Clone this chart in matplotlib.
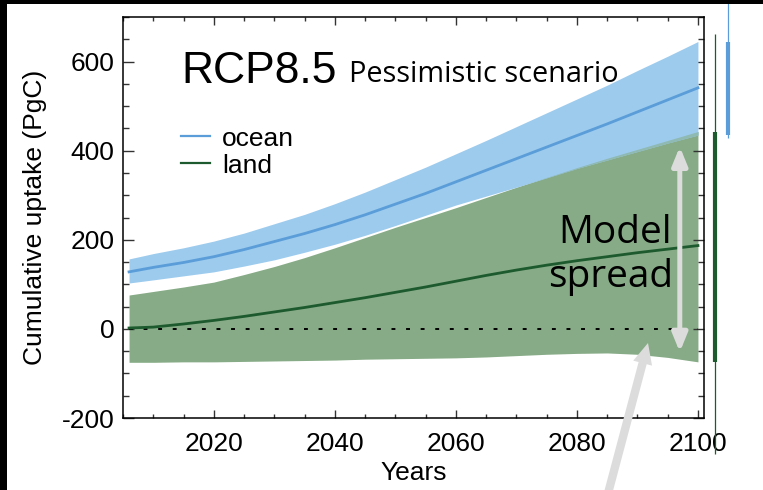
import matplotlib
matplotlib.use("Agg")
import matplotlib.pyplot as plt
import numpy as np
from matplotlib.patches import FancyArrowPatch, Rectangle, ArrowStyle
from matplotlib.ticker import MultipleLocator
from matplotlib.lines import Line2D

plt.rcParams['axes.unicode_minus'] = False

# ---------------- data ----------------
years = [2006, 2010, 2015, 2020, 2025, 2030, 2035, 2040, 2045, 2050,
         2055, 2060, 2065, 2070, 2075, 2080, 2085, 2090, 2095, 2100]

ocean_mean = [128, 138, 149, 162, 178, 196, 214, 234, 256, 280,
              304, 330, 356, 382, 408, 434, 460, 487, 514, 541]
ocean_hi = [157, 169, 182, 197, 215, 236, 257, 281, 307, 335,
            363, 393, 423, 454, 485, 516, 547, 580, 612, 645]
ocean_lo = [103, 110, 119, 128, 141, 155, 172, 190, 210, 232,
            255, 278, 298, 318, 339, 360, 379, 398, 417, 435]

land_mean = [2, 4, 11, 19, 28, 38, 48, 59, 70, 82,
             94, 107, 120, 132, 143, 153, 162, 171, 179, 187]
land_hi = [76, 84, 94, 105, 122, 140, 160, 182, 205, 228,
           250, 272, 295, 318, 340, 362, 383, 403, 423, 443]
land_lo = [-75, -75, -74, -74, -73, -72, -71, -70, -68, -67,
           -66, -65, -63, -60, -57, -55, -54, -57, -64, -74]

# ranges shown at the right edge (2100)
ocean_full_range = [429, 733]
land_full_range = [-280, 661]

# spread arrow (year, top, bottom)
spread_arrow = [2097, 409, -52]

series_labels = ["ocean", "land"]
title_main = "RCP8.5"
title_sub = "Pessimistic scenario"
spread_text = ["Model", "spread"]
x_ticks = [2020, 2040, 2060, 2080, 2100]
y_ticks = [-200, 0, 200, 400, 600]

# ---------------- style ----------------
c_ocean_band = "#9ccbee"
c_ocean_line = "#5a9dd8"
c_land_band = "#86ab86"
c_land_line = "#1d5a2e"
c_overlap = "#8fb9b3"
c_arrow = "#dcdcdc"
helv = ["Liberation Sans", "DejaVu Sans"]
geo = ["Open Sans", "DejaVu Sans"]

fig = plt.figure(figsize=(7.63, 4.90), dpi=100)
ax = fig.add_axes([123/763, 1-418/490, 581/763, 401/490])

yrs = np.array(years)
o_lo = np.array(ocean_lo); o_hi = np.array(ocean_hi)
l_lo = np.array(land_lo); l_hi = np.array(land_hi)

ax.fill_between(yrs, l_lo, l_hi, color=c_land_band, lw=0, zorder=1)
ax.fill_between(yrs, o_lo, o_hi, color=c_ocean_band, lw=0, zorder=2)
ax.fill_between(yrs, o_lo, l_hi, where=l_hi > o_lo, interpolate=True,
                color=c_overlap, lw=0, zorder=3)

ax.hlines(0, years[0], years[-1], colors="black", linestyles=(0, (2, 5.5)),
          lw=1.4, zorder=4)
ax.plot(yrs, ocean_mean, color=c_ocean_line, lw=2.0, zorder=5)
ax.plot(yrs, land_mean, color=c_land_line, lw=2.0, zorder=5)

# right-hand range bars
ax.plot([2105.0, 2105.0], ocean_full_range, color=c_ocean_line, lw=0.9,
        clip_on=False, zorder=6, solid_capstyle="butt")
ax.plot([2105.0, 2105.0], [ocean_lo[-1], ocean_hi[-1]], color=c_ocean_line,
        lw=3.0, clip_on=False, zorder=6, solid_capstyle="butt")
ax.plot([2102.9, 2102.9], land_full_range, color=c_land_line, lw=0.9,
        clip_on=False, zorder=6, solid_capstyle="butt")
ax.plot([2102.9, 2102.9], [land_lo[-1], land_hi[-1]], color=c_land_line,
        lw=3.0, clip_on=False, zorder=6, solid_capstyle="butt")

# model spread double arrow
arr = FancyArrowPatch((spread_arrow[0], spread_arrow[1]),
                      (spread_arrow[0], spread_arrow[2]),
                      arrowstyle=ArrowStyle("<|-|>", head_length=1.1, head_width=0.45),
                      mutation_scale=10, color=c_arrow, lw=3.6,
                      shrinkA=0, shrinkB=0, zorder=7)
ax.add_patch(arr)

# texts
ax.text(0.100, 0.835, title_main, transform=ax.transAxes, fontsize=32,
        family=helv, va="baseline", ha="left", zorder=8)
ax.text(0.389, 0.838, title_sub, transform=ax.transAxes, fontsize=20.8,
        family=geo, va="baseline", ha="left", zorder=8)
ax.text(0.944, 0.436, spread_text[0], transform=ax.transAxes, fontsize=28,
        family=geo, va="baseline", ha="right", zorder=8)
ax.text(0.947, 0.327, spread_text[1], transform=ax.transAxes, fontsize=28,
        family=geo, va="baseline", ha="right", zorder=8)

handles = [Line2D([], [], color=c_ocean_line, lw=1.6),
           Line2D([], [], color=c_land_line, lw=1.6)]
leg = ax.legend(handles, series_labels, loc="center left",
                bbox_to_anchor=(0.0998, 0.663), frameon=False,
                prop={"family": helv, "size": 19}, handlelength=1.1,
                handletextpad=0.45, labelspacing=0.12, borderpad=0,
                borderaxespad=0)

# axes styling
ax.set_xlim(2005, 2101)
ax.set_ylim(-200, 700)
ax.set_xticks(x_ticks)
ax.set_yticks(y_ticks)
ax.xaxis.set_minor_locator(MultipleLocator(5))
ax.yaxis.set_minor_locator(MultipleLocator(50))
ax.tick_params(which="both", direction="in", top=True, right=True,
               color="#333333", width=1.0)
ax.tick_params(axis="y", which="major", length=8, pad=6)
ax.tick_params(axis="y", which="minor", length=4.2)
ax.tick_params(axis="x", which="major", length=6, pad=10)
ax.tick_params(axis="x", which="minor", length=3)
for lab in ax.get_xticklabels() + ax.get_yticklabels():
    lab.set_family(helv)
    lab.set_fontsize(19)
for sp in ax.spines.values():
    sp.set_linewidth(1.1)
    sp.set_color("black")

ax.set_xlabel("Years", family=helv, fontsize=19)
ax.set_ylabel("Cumulative uptake (PgC)", family=helv, fontsize=19)
ax.xaxis.set_label_coords(0.5, -0.107)
ax.yaxis.set_label_coords(-0.13, 0.5)

# big pointer arrow coming from below
big = FancyArrowPatch((605/763, -0.03), (648/763, 1-343/490),
                      transform=fig.transFigure,
                      arrowstyle=ArrowStyle("simple", head_length=1.5,
                                            head_width=1.4, tail_width=0.6),
                      mutation_scale=10, color=c_arrow, lw=0,
                      shrinkA=0, shrinkB=0, zorder=9)
fig.add_artist(big)

# black frame strips
fig.add_artist(Rectangle((0, 0), 7/763, 1, transform=fig.transFigure,
                         color="black", lw=0, zorder=20))
fig.add_artist(Rectangle((0, 1-4/490), 1, 4/490, transform=fig.transFigure,
                         color="black", lw=0, zorder=20))

fig.savefig("out.png", dpi=100)
